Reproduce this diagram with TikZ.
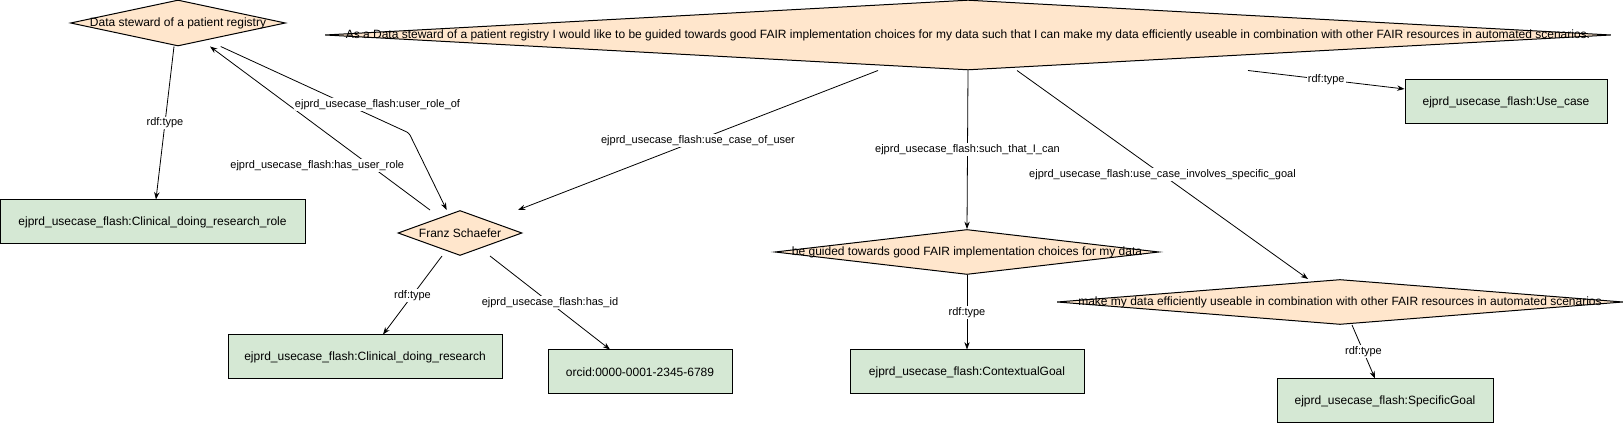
\documentclass[tikz,border=0pt]{standalone}
\usepackage{fontspec}
\setmainfont{Liberation Sans}
\usetikzlibrary{shapes.geometric,arrows.meta}
\definecolor{factfill}{HTML}{FFE6CC}
\definecolor{classfill}{HTML}{D5E8D4}
\begin{document}
\begin{tikzpicture}[x=.75pt,y=-.75pt,line width=.75pt,
  every node/.style={font=\fontsize{9}{11}\selectfont,inner sep=0pt},
  fact/.style={diamond,draw,fill=factfill,minimum height=33.75pt},
  cls/.style={rectangle,draw,fill=classfill,minimum height=33pt},
  lbl/.style={font=\fontsize{8.25}{10}\selectfont,fill=white,inner sep=1pt},
  rel/.style={-{Stealth[length=5.5pt,width=4pt]},line width=.6pt}]
  \path[use as bounding box] (0,0) rectangle (1624,427);
  % instances
  \node[fact,minimum width=161.25pt,minimum height=34.5pt] (steward) at (178,23) {\makebox[0pt]{Data steward of a patient registry}};
  \node[fact,minimum width=964.5pt,minimum height=52.5pt] (story) at (968,35) {\makebox[0pt]{As a Data steward of a patient registry I would like to be guided towards good FAIR implementation choices for my data such that I can make my data efficiently useable in combination with other FAIR resources in automated scenarios.}};
  \node[fact,minimum width=93pt] (franz) at (460,233) {\makebox[0pt]{Franz Schaefer}};
  \node[fact,minimum width=288pt] (guided) at (967,252) {\makebox[0pt]{be guided towards good FAIR implementation choices for my data}};
  \node[fact,minimum width=424.5pt] (make) at (1340,302) {\makebox[0pt]{make my data efficiently useable in combination with other FAIR resources in automated scenarios}};
  % classes
  \node[cls,minimum width=151.5pt] (usecase) at (1506,102) {ejprd\_usecase\_flash:Use\_case};
  \node[cls,minimum width=228.75pt] (role) at (152.5,222) {ejprd\_usecase\_flash:Clinical\_doing\_research\_role};
  \node[cls,minimum width=205.5pt] (clinical) at (365,357) {ejprd\_usecase\_flash:Clinical\_doing\_research};
  \node[cls,minimum width=138pt] (orcid) at (640,372) {orcid:0000-0001-2345-6789};
  \node[cls,minimum width=175.5pt] (contextual) at (967,372) {ejprd\_usecase\_flash:ContextualGoal};
  \node[cls,minimum width=162pt] (specific) at (1385,401) {ejprd\_usecase\_flash:SpecificGoal};
  \coordinate (bend) at (409,133);
  % relations
  \draw[rel] ([xshift=-3pt]steward.south) -- node[lbl]{rdf:type} ([xshift=2.6pt]role.north);
  \draw[rel] ([xshift=-22.5pt]franz.north) -- node[lbl,pos=.27,xshift=-40pt]{ejprd\_usecase\_flash:has\_user\_role} ([xshift=24pt]steward.south);
  \draw[rel,rounded corners=2pt] ([xshift=32pt]steward.south) -- node[lbl,pos=.67,xshift=23pt]{ejprd\_usecase\_flash:user\_role\_of} (bend) -- ([xshift=-10pt]franz.north);
  \draw[rel] ([xshift=-67.5pt]story.south) -- node[lbl]{ejprd\_usecase\_flash:use\_case\_of\_user} ([xshift=43.5pt]franz.north);
  \draw[rel] (story.south) -- node[lbl]{ejprd\_usecase\_flash:such\_that\_I\_can} (guided.north);
  \draw[rel] ([xshift=36.75pt]story.south) -- node[lbl]{ejprd\_usecase\_flash:use\_case\_involves\_specific\_goal} ([xshift=-24pt]make.north);
  \draw[rel] ([xshift=210pt]story.south) -- node[lbl]{rdf:type} ([yshift=9.75pt]usecase.west);
  \draw[rel] ([xshift=-13.5pt]franz.south) -- node[lbl]{rdf:type} ([xshift=13.5pt]clinical.north);
  \draw[rel] ([xshift=22.5pt]franz.south) -- node[lbl]{ejprd\_usecase\_flash:has\_id} ([xshift=-22.5pt]orcid.north);
  \draw[rel] (guided.south) -- node[lbl]{rdf:type} (contextual.north);
  \draw[rel] ([xshift=9pt]make.south) -- node[lbl]{rdf:type} ([xshift=-7.5pt]specific.north);
\end{tikzpicture}
\end{document}
